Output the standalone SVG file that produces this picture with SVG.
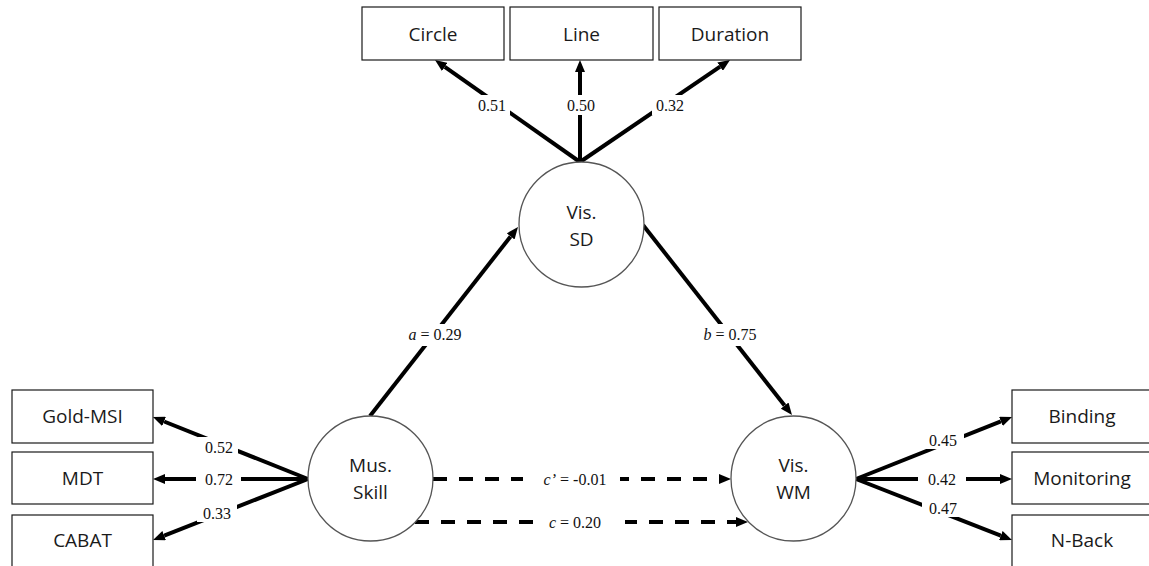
<svg xmlns="http://www.w3.org/2000/svg" width="1149" height="566" viewBox="0 0 1149 566">
  <style>
    .box { fill: #ffffff; stroke: #1a1a1a; stroke-width: 1.2; }
    .latent { fill: #ffffff; stroke: #555555; stroke-width: 1.3; }
    .name { font-family: "Open Sans", "DejaVu Sans", sans-serif; font-size: 19px; fill: #1a1a1a; text-anchor: middle; }
    .path { fill: none; stroke: #000000; stroke-width: 4; }
    .dash { stroke-dasharray: 14 12; }
    .coef { font-family: "Liberation Serif", "Times New Roman", serif; font-size: 16px; fill: #111111; text-anchor: middle; }
    .coef tspan.v { font-style: italic; }
    .gap { fill: #ffffff; }
  </style>
  <defs>
    <marker id="head" markerUnits="userSpaceOnUse" markerWidth="12" markerHeight="10" refX="0" refY="5" orient="auto" viewBox="0 0 12 10">
      <path d="M0,0 L12,5 L0,10 z" fill="#000000"/>
    </marker>
  </defs>

  <rect width="1149" height="566" fill="#ffffff"/>

  <!-- paths between constructs and their indicators -->
  <g id="connectors">
    <!-- Vis. SD indicators -->
    <line class="path" x1="580" y1="162" x2="444.8" y2="66.9" marker-end="url(#head)"/>
    <line class="path" x1="580" y1="162" x2="580" y2="72" marker-end="url(#head)"/>
    <line class="path" x1="580" y1="162" x2="720.1" y2="66.7" marker-end="url(#head)"/>
    <!-- mediation paths -->
    <line class="path" x1="370" y1="416" x2="510.6" y2="236.4" marker-end="url(#head)"/>
    <line class="path" x1="643" y1="225" x2="784.6" y2="405.6" marker-end="url(#head)"/>
    <line class="path dash" x1="433" y1="479" x2="719" y2="479" marker-end="url(#head)"/>
    <line class="path dash" x1="415" y1="522" x2="736" y2="522" marker-end="url(#head)"/>
    <!-- Mus. Skill indicators -->
    <line class="path" x1="308" y1="479" x2="164.1" y2="421.5" marker-end="url(#head)"/>
    <line class="path" x1="308" y1="479" x2="165" y2="479" marker-end="url(#head)"/>
    <line class="path" x1="308" y1="479" x2="164.2" y2="535.6" marker-end="url(#head)"/>
    <!-- Vis. WM indicators -->
    <line class="path" x1="856" y1="479" x2="1000.9" y2="421.4" marker-end="url(#head)"/>
    <line class="path" x1="856" y1="479" x2="1000" y2="479" marker-end="url(#head)"/>
    <line class="path" x1="856" y1="479" x2="1000.8" y2="535.6" marker-end="url(#head)"/>

    <!-- coefficient labels -->
    <rect class="gap" x="475" y="95" width="35" height="20"/>
    <text class="coef" x="492" y="111">0.51</text>
    <rect class="gap" x="563" y="95" width="35" height="20"/>
    <text class="coef" x="581" y="111">0.50</text>
    <rect class="gap" x="652" y="95" width="35" height="20"/>
    <text class="coef" x="670" y="111">0.32</text>

    <rect class="gap" x="402" y="324" width="66" height="22"/>
    <text class="coef" x="435" y="340"><tspan class="v">a</tspan> = 0.29</text>
    <rect class="gap" x="697" y="324" width="66" height="22"/>
    <text class="coef" x="730" y="340"><tspan class="v">b</tspan> = 0.75</text>

    <rect class="gap" x="523" y="468" width="97" height="22"/>
    <text class="coef" x="575" y="485"><tspan class="v">c’</tspan> = -0.01</text>
    <rect class="gap" x="533" y="511" width="92" height="22"/>
    <text class="coef" x="575" y="528"><tspan class="v">c</tspan> = 0.20</text>

    <rect class="gap" x="198" y="437" width="40" height="19"/>
    <text class="coef" x="219" y="453">0.52</text>
    <rect class="gap" x="196" y="469" width="45" height="20"/>
    <text class="coef" x="219" y="485">0.72</text>
    <rect class="gap" x="197" y="503" width="40" height="19"/>
    <text class="coef" x="217" y="519">0.33</text>

    <rect class="gap" x="922" y="430" width="42" height="19"/>
    <text class="coef" x="943" y="446">0.45</text>
    <rect class="gap" x="918" y="469" width="48" height="20"/>
    <text class="coef" x="942" y="485">0.42</text>
    <rect class="gap" x="922" y="498" width="42" height="19"/>
    <text class="coef" x="943" y="514">0.47</text>
  </g>

  <!-- Vis. SD indicators -->
  <g id="circle-task">
    <rect class="box" x="362" y="7" width="142" height="53"/>
    <text class="name" x="433" y="41">Circle</text>
  </g>
  <g id="line-task">
    <rect class="box" x="510" y="7" width="143" height="53"/>
    <text class="name" x="581.5" y="41">Line</text>
  </g>
  <g id="duration-task">
    <rect class="box" x="659" y="7" width="142" height="53"/>
    <text class="name" x="730" y="41">Duration</text>
  </g>

  <!-- latent constructs -->
  <g id="vis-sd">
    <circle class="latent" cx="581.5" cy="224.5" r="62.5"/>
    <text class="name" x="581.5" y="219">Vis.</text>
    <text class="name" x="581.5" y="246">SD</text>
  </g>
  <g id="mus-skill">
    <circle class="latent" cx="370.5" cy="478.5" r="62.5"/>
    <text class="name" x="370.5" y="472">Mus.</text>
    <text class="name" x="370.5" y="499">Skill</text>
  </g>
  <g id="vis-wm">
    <circle class="latent" cx="793.5" cy="478.5" r="62.5"/>
    <text class="name" x="793.5" y="472">Vis.</text>
    <text class="name" x="793.5" y="499">WM</text>
  </g>

  <!-- Mus. Skill indicators -->
  <g id="gold-msi">
    <rect class="box" x="12" y="390" width="141" height="53"/>
    <text class="name" x="82.5" y="423">Gold-MSI</text>
  </g>
  <g id="mdt">
    <rect class="box" x="12" y="452" width="141" height="52"/>
    <text class="name" x="82.5" y="485">MDT</text>
  </g>
  <g id="cabat">
    <rect class="box" x="12" y="515" width="141" height="53"/>
    <text class="name" x="82.5" y="547">CABAT</text>
  </g>

  <!-- Vis. WM indicators -->
  <g id="binding">
    <rect class="box" x="1012" y="390" width="142" height="53"/>
    <text class="name" x="1082" y="423">Binding</text>
  </g>
  <g id="monitoring">
    <rect class="box" x="1012" y="452" width="142" height="52"/>
    <text class="name" x="1082" y="485">Monitoring</text>
  </g>
  <g id="n-back">
    <rect class="box" x="1012" y="515" width="142" height="53"/>
    <text class="name" x="1082" y="547">N-Back</text>
  </g>
</svg>
